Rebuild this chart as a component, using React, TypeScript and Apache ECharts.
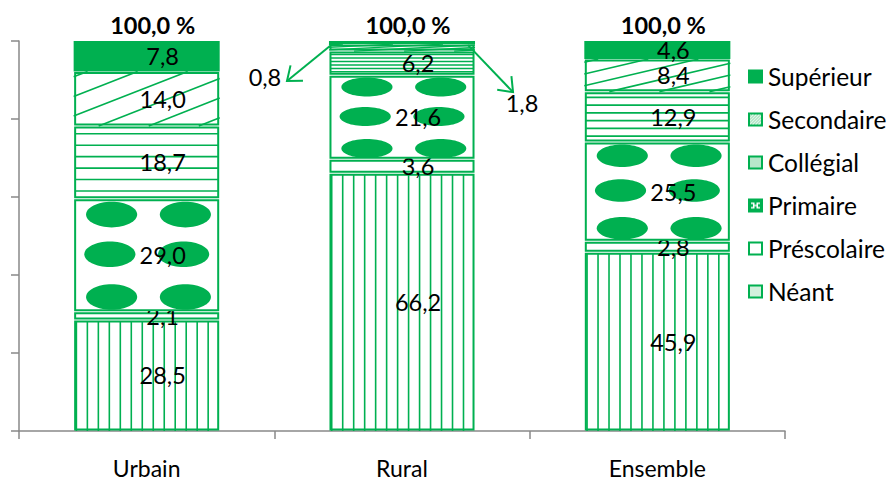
import React, { useEffect, useRef } from 'react';
import * as echarts from 'echarts';

// ---- Data ----
const categories = ['Urbain', 'Rural', 'Ensemble'];
const seriesNames = ['Néant', 'Préscolaire', 'Primaire', 'Collégial', 'Secondaire', 'Supérieur'];
const neant = [28.5, 66.2, 45.9];
const prescolaire = [2.1, 3.6, 2.8];
const primaire = [29.0, 21.6, 25.5];
const collegial = [18.7, 6.2, 12.9];
const secondaire = [14.0, 1.8, 8.4];
const superieur = [7.8, 0.8, 4.6];
const totals = [100.0, 100.0, 100.0];
const legendOrder = ['Supérieur', 'Secondaire', 'Collégial', 'Primaire', 'Préscolaire', 'Néant'];
const callouts: Record<string, 'left' | 'right'> = {
  'Supérieur|Rural': 'left',
  'Secondaire|Rural': 'right',
};

// ---- Styles ----
const GREEN = '#00B050';
const FONT = 'Lato';
const FS_VAL = 23.5;
const FS_TXT = 24.5;
const BAR_RATIO = 0.572;
const seriesValues = [neant, prescolaire, primaire, collegial, secondaire, superieur];
const fills = ['vlines', 'blank', 'ellipses', 'hlines', 'diag', 'solid'];

function fmt(v: number) {
  return v.toFixed(1).replace('.', ',');
}

function clipDiag(s: number, c: number): [number, number, number, number] | null {
  const u0 = Math.max(0, -c / s);
  const u1 = Math.min(1, (1 - c) / s);
  if (u1 <= u0) return null;
  return [u0, s * u0 + c, u1, s * u1 + c];
}

function makeIcon(kind: string): string {
  const c = document.createElement('canvas');
  c.width = 30;
  c.height = 28;
  const ctx = c.getContext('2d')!;
  ctx.scale(2, 2);
  const W = 15, H = 14;
  ctx.fillStyle = '#fff';
  ctx.fillRect(0, 0, W, H);
  if (kind === 'solid') {
    ctx.fillStyle = GREEN;
    ctx.fillRect(0, 0, W, H);
  } else if (kind === 'diag') {
    ctx.strokeStyle = '#8ad8a8';
    ctx.lineWidth = 1;
    for (let k = -14; k < 30; k += 3) {
      ctx.beginPath();
      ctx.moveTo(k, H);
      ctx.lineTo(k + H, 0);
      ctx.stroke();
    }
  } else if (kind === 'hlines') {
    ctx.strokeStyle = '#6fcf95';
    ctx.lineWidth = 1;
    for (let y = 3; y < H - 1; y += 2) {
      ctx.beginPath();
      ctx.moveTo(0, y);
      ctx.lineTo(W, y);
      ctx.stroke();
    }
  } else if (kind === 'ellipses') {
    ctx.fillStyle = GREEN;
    ctx.fillRect(0, 0, W, H);
    ctx.fillStyle = '#fff';
    ctx.fillRect(3, 4, 3, 1.5);
    ctx.fillRect(3, 8.5, 3, 1.5);
    ctx.fillRect(5, 4, 1.5, 6);
    ctx.fillRect(9, 4, 3, 1.5);
    ctx.fillRect(9, 8.5, 3, 1.5);
    ctx.fillRect(8.5, 4, 1.5, 6);
    ctx.fillRect(5, 6.3, 5, 1.4);
  } else if (kind === 'vlines') {
    ctx.fillStyle = '#d3f0dd';
    ctx.fillRect(0, 0, W, H);
  }
  if (kind !== 'solid' && kind !== 'ellipses') {
    ctx.strokeStyle = GREEN;
    ctx.lineWidth = 2;
    ctx.strokeRect(1, 1, W - 2, H - 2);
  }
  return 'image://' + c.toDataURL();
}

function makeRender(kind: string, sIdx: number, isTop: boolean) {
  return (params: any, api: any) => {
    const ci = api.value(0) as number;
    const a = api.value(1) as number;
    const b = api.value(2) as number;
    const v = api.value(3) as number;
    const p0 = api.coord([ci, a]);
    const p1 = api.coord([ci, b]);
    const band = api.size([1, 0])[0];
    const w = band * BAR_RATIO;
    const cx = p0[0];
    const L = cx - w / 2;
    const R = cx + w / 2;
    const T = p1[1];
    const B = p0[1];
    const h = B - T;
    const children: any[] = [];
    const ins = Math.min(1.5, h / 4);
    const lineStyle = { stroke: GREEN, lineWidth: 1.6 };

    if (kind === 'solid') {
      children.push({ type: 'rect', shape: { x: L, y: T, width: w, height: h }, style: { fill: GREEN } });
    } else {
      children.push({ type: 'rect', shape: { x: L + ins, y: T + ins, width: w - 2 * ins, height: h - 2 * ins }, style: { fill: '#fff' } });
      if (kind === 'vlines') {
        for (let k = 0; k < 13; k++) {
          const x = L + ((k + 0.25) / 13.3) * w;
          children.push({ type: 'line', shape: { x1: x, y1: T + ins, x2: x, y2: B }, style: lineStyle });
        }
      } else if (kind === 'hlines') {
        for (let k = 0; k < 6; k++) {
          const y = T + ins + ((k + 0.55) / 6.1) * (h - 2 * ins);
          children.push({ type: 'line', shape: { x1: L + ins, y1: y, x2: R - ins, y2: y }, style: { stroke: GREEN, lineWidth: Math.min(1.6, h / 16) } });
        }
      } else if (kind === 'diag') {
        const s = 1.05;
        for (const c of [0.9, 0.54, 0.18, -0.18, -0.54, -0.9]) {
          const seg = clipDiag(s, c);
          if (!seg) continue;
          const [u0, w0, u1, w1] = seg;
          children.push({
            type: 'line',
            shape: { x1: L + u0 * w, y1: B - w0 * h, x2: L + u1 * w, y2: B - w1 * h },
            style: { stroke: GREEN, lineWidth: Math.min(1.6, h / 5) },
          });
        }
      } else if (kind === 'ellipses') {
        const rows = [0.14, 0.49, 0.87];
        const cols = [0.26, 0.765];
        rows.forEach((r, ri) => {
          cols.forEach((cc) => {
            const shift = ri === 1 ? -0.012 : 0;
            children.push({
              type: 'ellipse',
              shape: { cx: L + (cc + shift) * w, cy: T + r * h, rx: 0.175 * w, ry: 0.113 * h },
              style: { fill: GREEN },
            });
          });
        });
      }
      children.push({
        type: 'rect',
        shape: { x: L + ins, y: T + ins, width: w - 2 * ins, height: h - 2 * ins },
        style: { fill: 'none', stroke: GREEN, lineWidth: Math.min(2, h / 3) },
      });
    }

    const key = seriesNames[sIdx] + '|' + categories[ci];
    const side = callouts[key];
    const textStyle = {
      fill: '#000',
      fontSize: FS_VAL,
      fontFamily: FONT,
      align: 'center',
      verticalAlign: 'middle',
      lineHeight: 18,
    };
    if (side) {
      let sx: number, sy: number, ex: number, ey: number, tx: number, ty: number;
      if (side === 'left') {
        sx = L + 1; sy = T + 5; ex = L - 42; ey = T + 40; tx = ex - 22; ty = ey - 4;
      } else {
        sx = R - 7; sy = T + 1; ex = R + 38; ey = T + 48; tx = ex + 9; ty = ey + 11;
      }
      const dx = sx - ex, dy = sy - ey;
      const len = Math.sqrt(dx * dx + dy * dy);
      const ux = dx / len, uy = dy / len;
      const ang = (38 * Math.PI) / 180;
      const bl = 16;
      const rot = (t: number) => [ux * Math.cos(t) - uy * Math.sin(t), ux * Math.sin(t) + uy * Math.cos(t)];
      const r1 = rot(ang), r2 = rot(-ang);
      children.push({ type: 'line', shape: { x1: sx, y1: sy, x2: ex, y2: ey }, style: { stroke: GREEN, lineWidth: 2 } });
      children.push({
        type: 'polyline',
        shape: { points: [[ex + r1[0] * bl, ey + r1[1] * bl], [ex, ey], [ex + r2[0] * bl, ey + r2[1] * bl]] },
        style: { stroke: GREEN, lineWidth: 2, fill: 'none' },
      });
      children.push({ type: 'text', style: { ...textStyle, text: fmt(v), x: tx, y: ty } });
    } else {
      children.push({ type: 'text', style: { ...textStyle, text: fmt(v), x: cx + 16, y: (T + B) / 2 } });
    }
    if (isTop) {
      children.push({
        type: 'text',
        style: { ...textStyle, fontSize: 23.5, fontWeight: 'bold', text: fmt(totals[ci]) + ' %', x: cx + 6, y: T - 16 },
      });
    }
    return { type: 'group', children };
  };
}

export default function App() {
  const ref = useRef<HTMLDivElement>(null);
  useEffect(() => {
    if (!ref.current) return;
    const chart = echarts.init(ref.current, undefined, { renderer: 'svg' });
    const sums = categories.map((_, i) => seriesValues.reduce((acc, arr) => acc + arr[i], 0));
    const cum = categories.map(() => 0);
    const series = seriesNames.map((name, sIdx) => {
      const data = categories.map((_, i) => {
        const start = cum[i];
        const end = start + (seriesValues[sIdx][i] / sums[i]) * 100;
        cum[i] = end;
        return [i, start, end, seriesValues[sIdx][i]];
      });
      return {
        type: 'custom',
        name,
        renderItem: makeRender(fills[sIdx], sIdx, sIdx === seriesNames.length - 1),
        encode: { x: 0, y: [1, 2] },
        itemStyle: { color: GREEN },
        data,
        z: 2 + sIdx,
      };
    });
    const icons: Record<string, string> = {};
    seriesNames.forEach((n, i) => (icons[n] = makeIcon(fills[i])));

    chart.setOption({
      animation: false,
      grid: { left: 19, right: 104, top: 41, bottom: 51, containLabel: false },
      legend: {
        orient: 'vertical',
        left: 748,
        top: 64,
        padding: 0,
        itemWidth: 15,
        itemHeight: 14,
        itemGap: 18,
        selectedMode: false,
        textStyle: { color: '#000', fontSize: FS_TXT, fontFamily: FONT, lineHeight: 23 },
        data: legendOrder.map((n) => ({ name: n, icon: icons[n] })),
      },
      xAxis: {
        type: 'category',
        data: categories,
        axisLine: { lineStyle: { color: '#898989', width: 1.5 } },
        axisTick: { show: true, length: 8, lineStyle: { color: '#898989', width: 1.5 } },
        axisLabel: { color: '#000', fontSize: 23, fontFamily: FONT, margin: 28, lineHeight: 18 },
      },
      yAxis: {
        type: 'value',
        min: 0,
        max: 100,
        interval: 20,
        axisLine: { show: true, lineStyle: { color: '#898989', width: 1.5 } },
        axisTick: { show: true, length: 8, lineStyle: { color: '#898989', width: 1.5 } },
        axisLabel: { show: false },
        splitLine: { show: false },
      },
      series,
    });
    return () => chart.dispose();
  }, []);
  return (
    <div
      ref={ref}
      style={{ position: 'absolute', left: 0, top: 0, width: 889, height: 482, background: '#fff' }}
    />
  );
}
